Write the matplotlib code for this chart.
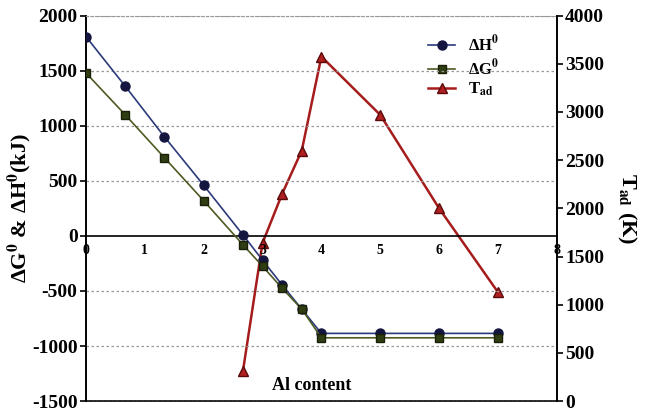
import matplotlib.pyplot as plt
import numpy as np

plt.rcParams['font.family'] = ['Liberation Serif', 'DejaVu Serif']
plt.rcParams['font.weight'] = 'bold'
plt.rcParams['mathtext.fontset'] = 'stix'
plt.rcParams['axes.unicode_minus'] = False

# Data
al_content = [0, 0.667, 1.333, 2, 2.667, 3, 3.333, 3.667, 4, 5, 6, 7]
delta_h = [1810, 1360, 900, 460, 10, -220, -445, -665, -885, -885, -885, -885]
delta_g = [1480, 1100, 710, 320, -80, -275, -475, -665, -925, -925, -925, -925]
t_x = [2.667, 3, 3.333, 3.667, 4, 5, 6, 7]
t_ad = [310, 1640, 2150, 2600, 3575, 2970, 2000, 1130]

left_ticks = np.arange(-1500, 2001, 500)
right_ticks = np.arange(0, 4001, 500)
x_ticks = np.arange(0, 9, 1)

fig = plt.figure(figsize=(6.46, 4.11), dpi=100)
ax = fig.add_axes([0.133, 0.024, 0.729, 0.938])
ax2 = ax.twinx()

# Grid lines from the left axis
for v in left_ticks:
    if v != 0:
        ax.axhline(v, color='#999999', linestyle=(0, (2, 2)), linewidth=0.9, zorder=0)

l1, = ax.plot(al_content, delta_h, color='#2b3a7a', linewidth=1.2, marker='o',
              markersize=6.5, markerfacecolor='#141640', markeredgecolor='#141640',
              label='ΔH$^{0}$', zorder=3)
l2, = ax.plot(al_content, delta_g, color='#4d5a22', linewidth=1.2, marker='s',
              markersize=6, markerfacecolor='#2e3d12', markeredgecolor='#1a2008',
              label='ΔG$^{0}$', zorder=3)
l3, = ax2.plot(t_x, t_ad, color='#a51c1c', linewidth=1.8, marker='^',
               markersize=6.5, markerfacecolor='#b02020', markeredgecolor='#5a0a0a',
               label=r'T$_{\mathrm{ad}}$', zorder=3)

ax.set_xlim(0, 8)
ax.set_ylim(-1500, 2000)
ax2.set_ylim(0, 4000)
ax.set_yticks(left_ticks)
ax2.set_yticks(right_ticks)
ax.set_xticks(x_ticks)

# x axis crosses at zero
ax.spines['bottom'].set_position(('data', 0))
ax.spines['bottom'].set_linewidth(1.2)
ax.spines['top'].set_linestyle((0, (2, 2)))
ax.spines['top'].set_color('#999999')
ax2.spines['top'].set_visible(False)
ax2.spines['bottom'].set_linewidth(1.2)
for s in ('left', 'right'):
    ax.spines[s].set_linewidth(1.2)
    ax2.spines[s].set_linewidth(1.2)

ax.tick_params(axis='x', length=0, pad=6, labelsize=10)
ax.tick_params(axis='y', length=4, width=1.2, labelsize=14, pad=2)
ax2.tick_params(axis='y', length=4, width=1.2, labelsize=14, pad=2)
for lab in ax.get_xticklabels() + ax.get_yticklabels() + ax2.get_yticklabels():
    lab.set_fontweight('bold')

ax.set_ylabel('ΔG$^{0}$ & ΔH$^{0}$(kJ)', fontsize=16, fontweight='bold', labelpad=-1)
ax2.set_ylabel(r'T$_{\mathrm{ad}}$ (K)', fontsize=16, fontweight='bold', rotation=270,
               labelpad=24)

ax.text(0.48, 0.04, 'Al content', transform=ax.transAxes, fontsize=13,
        fontweight='bold', ha='center', va='center')

ax2.legend(handles=[l1, l2, l3], loc='upper right', bbox_to_anchor=(0.91, 0.99),
           frameon=False, handlelength=1.6, labelspacing=0.15,
           prop={'weight': 'bold', 'size': 12})

ax.set_zorder(ax2.get_zorder() + 1)
ax.patch.set_visible(False)

fig.savefig('out.png', dpi=100)
